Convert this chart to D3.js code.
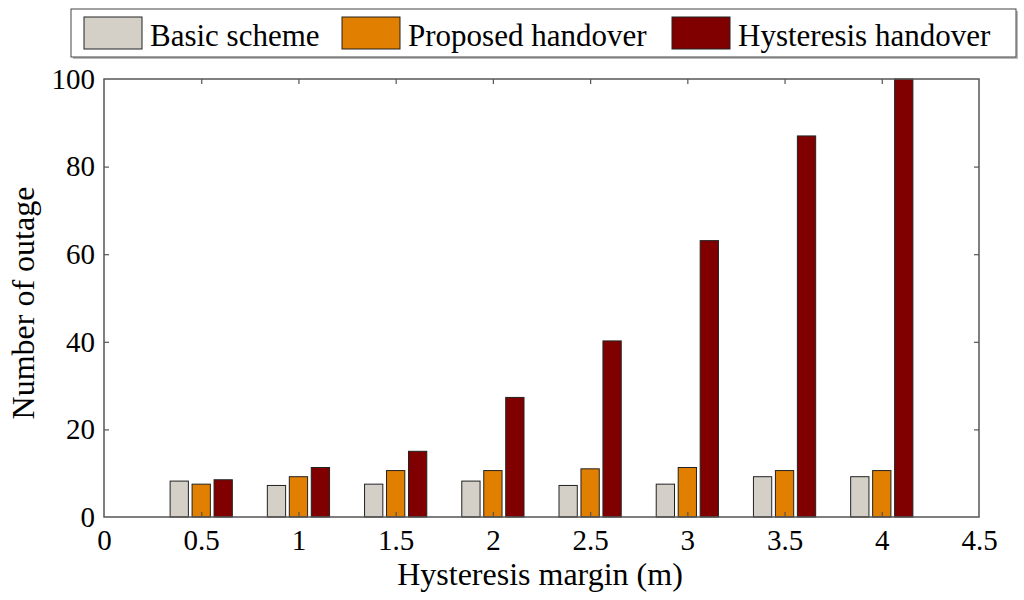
<!DOCTYPE html>
<html>
<head>
<meta charset="utf-8">
<script src="https://cdn.jsdelivr.net/npm/d3@7"></script>
<style>
  body { margin: 0; background: #fff; }
  text { font-family: "Liberation Serif", "Times New Roman", serif; fill: #000; }
</style>
</head>
<body>
<svg id="chart" width="1024" height="600"></svg>
<script>
// margins (m) along the x axis
const margins = [0.5, 1, 1.5, 2, 2.5, 3, 3.5, 4];
const seriesNames = ["Basic scheme", "Proposed handover", "Hysteresis handover"];
const seriesColors = ["#d4d0c8", "#e07f00", "#800000"];
const basicScheme = [8.2, 7.2, 7.5, 8.2, 7.2, 7.5, 9.2, 9.2];
const proposedHandover = [7.5, 9.2, 10.6, 10.6, 11.0, 11.3, 10.6, 10.6];
const hysteresisHandover = [8.5, 11.3, 15.0, 27.3, 40.2, 63.1, 87.0, 100];
const xTicks = [0, 0.5, 1, 1.5, 2, 2.5, 3, 3.5, 4, 4.5];
const yTicks = [0, 20, 40, 60, 80, 100];

const seriesData = [basicScheme, proposedHandover, hysteresisHandover];

const svg = d3.select("#chart");
const pLeft = 104, pRight = 979, pTop = 79, pBottom = 517;

const x = d3.scaleLinear().domain([0, 4.5]).range([pLeft, pRight]);
const y = d3.scaleLinear().domain([0, 100]).range([pBottom, pTop]);

// group layout: bar width and offset in data units
const barW = 0.094;
const step = 0.113;

const plot = svg.append("g");

seriesData.forEach((vals, s) => {
    plot.selectAll(".bar" + s)
        .data(vals)
        .enter()
        .append("rect")
        .attr("x", (d, i) => x(margins[i] + (s - 1) * step - barW / 2))
        .attr("width", x(barW) - x(0))
        .attr("y", d => y(d))
        .attr("height", d => y(0) - y(d))
        .attr("fill", seriesColors[s])
        .attr("stroke", "#222")
        .attr("stroke-width", 1);
});

// frame
svg.append("rect")
    .attr("x", pLeft).attr("y", pTop)
    .attr("width", pRight - pLeft).attr("height", pBottom - pTop)
    .attr("fill", "none").attr("stroke", "#555").attr("stroke-width", 1.5);

// axes with inward ticks
const xAxis = svg.append("g")
    .attr("transform", `translate(0,${pBottom})`)
    .call(d3.axisBottom(x).tickValues(xTicks).tickSize(-5).tickPadding(12).tickFormat(d3.format("")));
const yAxis = svg.append("g")
    .attr("transform", `translate(${pLeft},0)`)
    .call(d3.axisLeft(y).tickValues(yTicks).tickSize(-5).tickPadding(9));
const xTop = svg.append("g")
    .attr("transform", `translate(0,${pTop})`)
    .call(d3.axisTop(x).tickValues(xTicks).tickSize(-5).tickFormat(""));
const yRight = svg.append("g")
    .attr("transform", `translate(${pRight},0)`)
    .call(d3.axisRight(y).tickValues(yTicks).tickSize(-5).tickFormat(""));

[xAxis, yAxis, xTop, yRight].forEach(a => {
    a.select(".domain").remove();
    a.selectAll(".tick line").attr("stroke", "#555").attr("stroke-width", 1.2);
    a.selectAll("text").style("font-family", '"Liberation Serif", serif').style("font-size", "29px").attr("fill", "#000");
});
xAxis.selectAll("text").attr("dy", "0.71em");
// suppress boundary ticks overlapping frame corners
xAxis.selectAll(".tick line").filter(d => d === 0 || d === 4.5).remove();
xTop.selectAll(".tick line").filter(d => d === 0 || d === 4.5).remove();
yAxis.selectAll(".tick line").filter(d => d === 0 || d === 100).remove();
yRight.selectAll(".tick line").filter(d => d === 0 || d === 100).remove();

// axis titles
svg.append("text")
    .attr("x", 540).attr("y", 585)
    .attr("text-anchor", "middle")
    .style("font-size", "32px")
    .text("Hysteresis margin (m)");
svg.append("text")
    .attr("transform", `translate(34,303) rotate(-90)`)
    .attr("text-anchor", "middle")
    .style("font-size", "32px")
    .text("Number of outage");

// legend
const legend = svg.append("g");
legend.append("rect")
    .attr("x", 73).attr("y", 11).attr("width", 945).attr("height", 48)
    .attr("fill", "#bbb");
legend.append("rect")
    .attr("x", 71).attr("y", 9).attr("width", 945).attr("height", 48)
    .attr("fill", "#fff").attr("stroke", "#444").attr("stroke-width", 1);
const legendPos = [84, 342, 672];
seriesNames.forEach((name, s) => {
    legend.append("rect")
        .attr("x", legendPos[s]).attr("y", 17).attr("width", 58).attr("height", 32)
        .attr("fill", seriesColors[s]).attr("stroke", "#222").attr("stroke-width", 1);
    legend.append("text")
        .attr("x", legendPos[s] + 66).attr("y", 46)
        .style("font-size", "31px")
        .text(name);
});
</script>
</body>
</html>
